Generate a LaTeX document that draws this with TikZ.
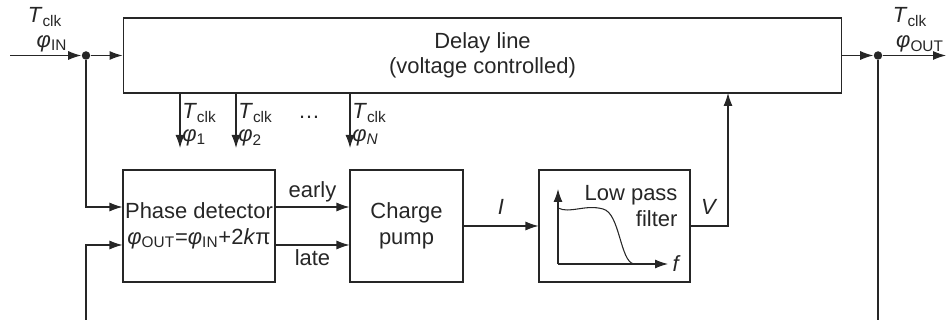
\documentclass[tikz,border=0pt]{standalone}
\usepackage{fontspec}
\setmainfont{Liberation Sans}
\usetikzlibrary{arrows.meta}
\newcommand{\Tclk}{\textit{T}\textsubscript{clk}}
\newcommand{\phsub}[1]{\textit{φ}\textsubscript{#1}}
\begin{document}
\begin{tikzpicture}[x=0.02cm, y=-0.02cm, line width=0.6pt, black!85,
		font=\fontsize{12.5}{14.5}\selectfont,
		>={Latex[length=2.6mm,width=1.8mm]},
		block/.style={draw, align=center, inner sep=0pt, minimum height=2.24cm},
		dot/.style={circle, fill, inner sep=0pt, minimum size=0.17cm}]
		\useasboundingbox (0,0) rectangle (950,320);
		% blocks
		\node[block, minimum width=14.38cm, minimum height=1.5cm] (dl) at (482.5,55.5) {Delay line\\(voltage controlled)};
		\node[block, minimum width=3.04cm] (pd) at (199,226) {Phase detector\\\phsub{OUT}=\phsub{IN}+2\textit{k}π};
		\node[block, minimum width=2.26cm] (cp) at (406.5,226) {Charge\\pump};
		\node[block, minimum width=3.02cm] (lpf) at (614.5,226) {};
		% input and output
		\coordinate (in) at (10,55.5);
		\coordinate (out) at (946,55.5);
		\node[dot] (jin) at (86,55.5) {};
		\node[dot] (jout) at (878,55.5) {};
		\coordinate (fbl) at (86,320);
		\coordinate (fbr) at (878,320);
		\draw[->] (in) -- (jin);
		\draw[->] (jin) -- (dl.west);
		\draw[->] (dl.east) -- (jout);
		\draw[->] (jout) -- (out);
		\node at (45,17) {\Tclk};
		\node at (52,44) {\phsub{IN}};
		\node at (910,17) {\Tclk};
		\node at (920,44) {\phsub{OUT}};
		% feedback to the phase detector
		\draw[->] (jin) |- ([yshift=0.38cm]pd.west);
		\draw[->] (fbl) |- ([yshift=-0.38cm]pd.west);
		\draw (jout) -- (fbr);
		% taps of the delay line
		\foreach \x/\i in {180/1,236/2,350/\textit{N}}{
			\draw[->] (dl.south -| \x,0) -- (\x,148);
			\node[anchor=west, inner sep=1pt] at (\x,113) {\Tclk};
			\node[anchor=west, inner sep=1pt] at (\x,138) {\phsub{\i}};
		}
		\node at (309,117) {…};
		% loop
		\draw[->] ([yshift=0.38cm]pd.east) -- node[above=-1pt]{early} ([yshift=0.38cm]cp.west);
		\draw[->] ([yshift=-0.38cm]pd.east) -- node[below=-1pt]{late} ([yshift=-0.38cm]cp.west);
		\draw[->] (cp.east) -- node[above=3pt]{\textit{I}} (lpf.west);
		\coordinate (vtap) at (728,93);
		\draw[->] (lpf.east) -| node[pos=0.25, above=3pt]{\textit{V}} (vtap);
		% filter response
		\coordinate (o) at (558,264);
		\draw[->] (o) -- (558,189);
		\draw[->] (o) -- (668,264) node[right=-1pt]{\textit{f}};
		\draw (558,208) .. controls (570,214) and (585,204) .. (603,209)
			.. controls (620,213) and (620,262) .. (634,264);
		\node[anchor=east, align=right, inner sep=0pt] at (678,206) {Low pass\\filter};
	\end{tikzpicture}
\end{document}
